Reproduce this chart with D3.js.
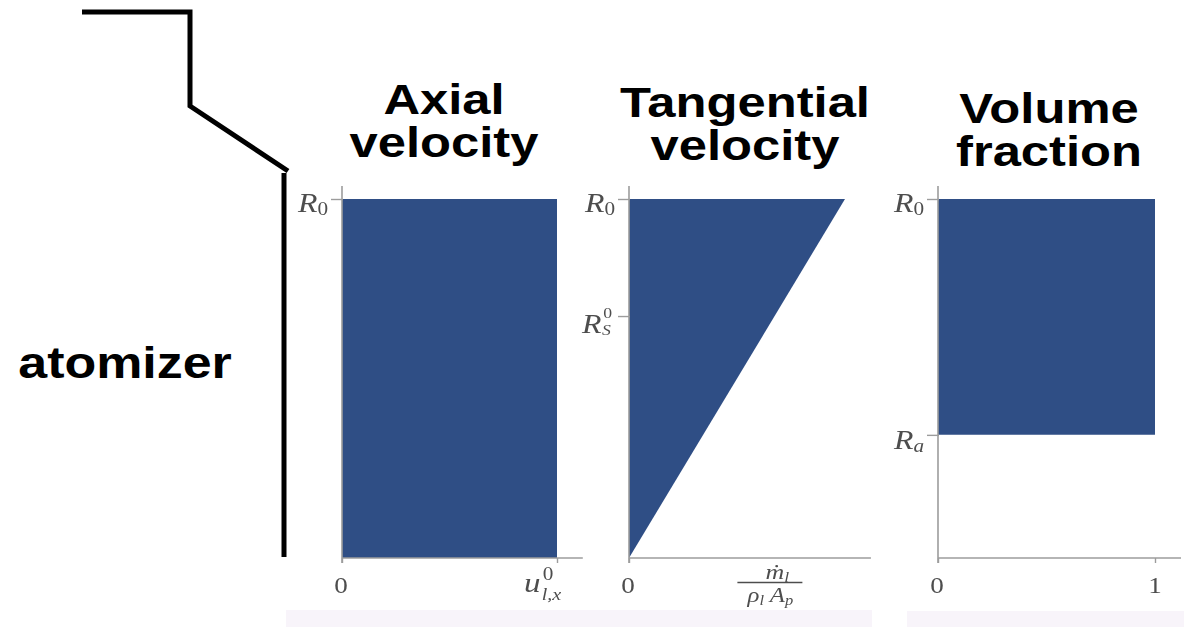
<!DOCTYPE html>
<html>
<head>
<meta charset="utf-8">
<script src="https://cdn.jsdelivr.net/npm/d3@7"></script>
<style>
  html, body { margin: 0; padding: 0; background: #fff; }
  svg { display: block; }
  .title { font-family: "Liberation Sans", Arial, sans-serif; font-weight: bold; font-size: 43px; fill: #000; }
  .math { font-family: "Liberation Serif", "DejaVu Serif", serif; fill: #4e4e4e; }
  .it { font-style: italic; }
</style>
</head>
<body>
<svg id="chart" width="1184" height="627"></svg>
<script>
// Panel titles (two lines each)
const panelTitles = [["Axial", "velocity"], ["Tangential", "velocity"], ["Volume", "fraction"]];

// Radial positions (normalised by R0)
const radialTickNames = ["R0", "RS0", "Ra"];
const radialTickValues = [1.0, 0.674, 0.343];

// Axial velocity: uniform u_{l,x}^0 across the whole radius
const axialR = [0, 1];
const axialU = [1, 1];

// Tangential velocity: linear in r, zero on the axis
const tangentialR = [0, 1];
const tangentialW = [0, 1];

// Volume fraction: 1 between Ra and R0, 0 inside
const volumeR = [0.343, 1];
const volumeAlpha = [1, 1];

// Horizontal tick labels per panel
const xTickLabels = [["0", "u"], ["0", "mdot"], ["0", "1"]];

const fillColor = "#2f4e85";
const axisColor = "#9c9c9c";
const stretch = 1.18;   // horizontal stretch applied to all lettering

const svg = d3.select("#chart");

// soft blur for the axis lettering
const defs = svg.append("defs");
defs.append("filter").attr("id", "soft")
  .append("feGaussianBlur").attr("stdDeviation", 0.5);

// faint bands along the bottom edge
svg.append("rect").attr("x", 286).attr("y", 610).attr("width", 586).attr("height", 17).attr("fill", "#f8f4fa");
svg.append("rect").attr("x", 907).attr("y", 611).attr("width", 277).attr("height", 16).attr("fill", "#f8f4fa");

// atomizer wall outline
const wall = [[82, 12], [190, 12], [190, 106], [288, 171]];
svg.append("path")
  .attr("d", d3.line()(wall))
  .attr("fill", "none").attr("stroke", "#000").attr("stroke-width", 5)
  .attr("stroke-linejoin", "miter");
svg.append("line").attr("x1", 284).attr("x2", 284).attr("y1", 173).attr("y2", 557)
  .attr("stroke", "#000").attr("stroke-width", 5);

svg.append("text").attr("class", "title")
  .attr("transform", `translate(125,378) scale(${stretch},1)`)
  .attr("text-anchor", "middle").style("font-size", "44px")
  .text("atomizer");

// a stretched math label anchored at (x, y)
function mathGroup(parent, x, y) {
  return parent.append("g").attr("transform", `translate(${x},${y}) scale(${stretch},1)`);
}

// panel layout
const panels = [
  { left: 342, width: 215, title: panelTitles[0], tcx: 444, tby: 114, radial: [0] },
  { left: 629, width: 216, title: panelTitles[1], tcx: 745, tby: 117, radial: [0, 1] },
  { left: 938, width: 217, title: panelTitles[2], tcx: 1049, tby: 123, radial: [0, 2] }
];
const plotTop = 199, plotBottom = 558;
const radialBaseline = { R0: 13, RS0: 17, Ra: 14 };

panels.forEach((p, i) => {
  const g = svg.append("g");
  const x = d3.scaleLinear().domain([0, 1]).range([p.left, p.left + p.width]);
  const y = d3.scaleLinear().domain([0, 1]).range([plotBottom, plotTop]);

  // profile shapes
  if (i === 0) {
    const area = d3.area().x0(x(0)).x1((d, k) => x(axialU[k])).y(d => y(d));
    g.append("path").attr("d", area(axialR)).attr("fill", fillColor);
  } else if (i === 1) {
    const area = d3.area().x0(x(0)).x1((d, k) => x(tangentialW[k])).y(d => y(d));
    g.append("path").attr("d", area(tangentialR)).attr("fill", fillColor);
  } else {
    const area = d3.area().x0(x(0)).x1((d, k) => x(volumeAlpha[k])).y(d => y(d));
    g.append("path").attr("d", area(volumeR)).attr("fill", fillColor);
  }

  // axis lines
  g.append("line").attr("x1", x(0)).attr("x2", x(0)).attr("y1", y(0) + 5).attr("y2", y(1.036))
    .attr("stroke", axisColor).attr("stroke-width", 1.6);
  g.append("line").attr("x1", x(0)).attr("x2", x(1.12)).attr("y1", y(0)).attr("y2", y(0))
    .attr("stroke", axisColor).attr("stroke-width", 1.6);

  // radial ticks
  const rv = p.radial.map(k => radialTickValues[k]);
  const yAxis = d3.axisLeft(y).tickValues(rv).tickSize(12).tickSizeOuter(0).tickFormat("");
  const ya = g.append("g").attr("transform", `translate(${x(0) + 1},0)`).call(yAxis);
  ya.select(".domain").remove();
  ya.selectAll(".tick line").attr("stroke", axisColor).attr("stroke-width", 1.4);

  // x ticks (0 and the reference value, except for the tangential panel)
  const xv = i === 1 ? [0] : [0, 1];
  const xAxis = d3.axisBottom(x).tickValues(xv).tickSize(5).tickSizeOuter(0).tickFormat("");
  const xa = g.append("g").attr("transform", `translate(0,${y(0)})`).call(xAxis);
  xa.select(".domain").remove();
  xa.selectAll(".tick line").attr("stroke", axisColor).attr("stroke-width", 1.4);

  const lab = g.append("g").attr("filter", "url(#soft)");

  // radial labels
  p.radial.forEach(k => {
    const name = radialTickNames[k];
    const ty = y(radialTickValues[k]);
    const m = mathGroup(lab, x(0) - 14, ty + radialBaseline[name]);
    if (name === "RS0") {
      // R with stacked superscript 0 and subscript S
      const t = m.append("text").attr("class", "math").style("font-size", "27px");
      t.append("tspan").attr("class", "it").attr("x", -28).text("R");
      t.append("tspan").attr("x", -10).attr("dy", -15).style("font-size", "15px").text("0");
      t.append("tspan").attr("class", "it").attr("x", -11).attr("dy", 17).style("font-size", "15px").text("S");
    } else {
      const t = m.append("text").attr("class", "math").attr("text-anchor", "end").style("font-size", "27px");
      t.append("tspan").attr("class", "it").text("R");
      t.append("tspan").attr("dy", 3).style("font-size", "18px")
        .attr("class", name === "Ra" ? "it" : null).text(name === "Ra" ? "a" : "0");
    }
  });

  // x labels
  mathGroup(lab, x(0) - 1, 593).append("text").attr("class", "math").attr("text-anchor", "middle")
    .style("font-size", "23px").text("0");
  const lbl = xTickLabels[i][1];
  if (lbl === "1") {
    mathGroup(lab, x(1), 593).append("text").attr("class", "math").attr("text-anchor", "middle")
      .style("font-size", "23px").text("1");
  } else if (lbl === "u") {
    // u_{l,x}^0
    const t = mathGroup(lab, x(1) - 33, 592).append("text").attr("class", "math").style("font-size", "28px");
    t.append("tspan").attr("class", "it").attr("x", 0).text("u");
    t.append("tspan").attr("x", 16).attr("dy", -12).style("font-size", "18px").text("0");
    t.append("tspan").attr("class", "it").attr("x", 15).attr("dy", 20).style("font-size", "17px").text("l,x");
  } else {
    // mass flow rate over (density * area)
    const cx = x(0.65);
    const num = mathGroup(lab, cx + 8, 579).append("text").attr("class", "math").attr("text-anchor", "middle")
      .style("font-size", "22px");
    num.append("tspan").attr("class", "it").text("ṁ");
    num.append("tspan").attr("dy", 3).style("font-size", "15px").attr("class", "it").text("l");
    lab.append("line").attr("x1", cx - 32).attr("x2", cx + 33).attr("y1", 582.5).attr("y2", 582.5)
      .attr("stroke", "#4e4e4e").attr("stroke-width", 1.4);
    const den = mathGroup(lab, cx + 1, 602).append("text").attr("class", "math").attr("text-anchor", "middle")
      .style("font-size", "21px");
    den.append("tspan").attr("class", "it").text("ρ");
    den.append("tspan").attr("dy", 3).style("font-size", "14px").attr("class", "it").text("l");
    den.append("tspan").attr("dy", -3).attr("class", "it").text(" A");
    den.append("tspan").attr("dy", 3).style("font-size", "14px").attr("class", "it").text("p");
  }

  // two-line title
  const t = svg.append("text").attr("class", "title")
    .attr("text-anchor", "middle")
    .attr("transform", `translate(${p.tcx},${p.tby}) scale(${stretch},1)`);
  p.title.forEach((line, k) => {
    t.append("tspan").attr("x", 0).attr("dy", k === 0 ? 0 : 43.5).text(line);
  });
});
</script>
</body>
</html>
